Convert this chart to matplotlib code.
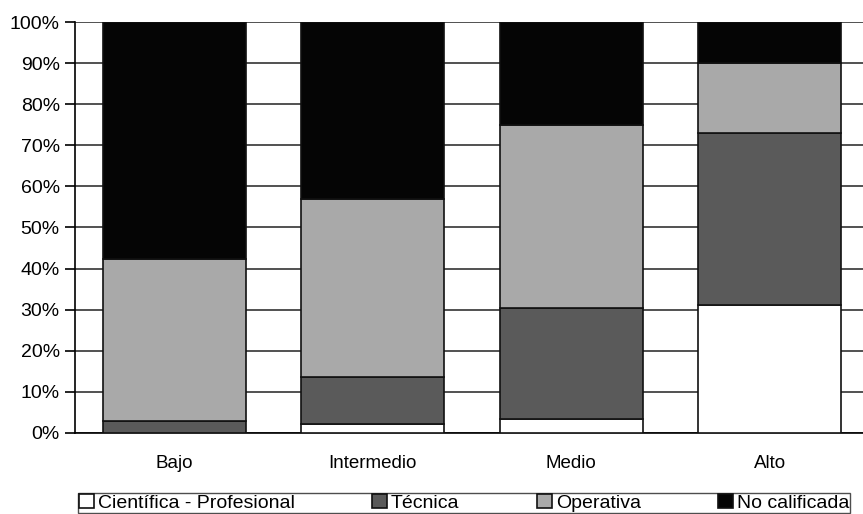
import numpy as np
import matplotlib.pyplot as plt
from matplotlib.ticker import PercentFormatter

plt.rcParams['font.family'] = ['Liberation Sans', 'DejaVu Sans']

# datos (% por nivel)
categorias = ['Bajo', 'Intermedio', 'Medio', 'Alto']
series = ['Científica - Profesional', 'Técnica', 'Operativa', 'No calificada']
cientifica = [0.0, 2.1, 3.3, 31.0]
tecnica = [2.8, 11.6, 27.2, 42.0]
operativa = [39.6, 43.3, 44.4, 17.0]
no_calificada = [57.6, 43.0, 25.1, 10.0]

colores = ['#ffffff', '#5a5a5a', '#a9a9a9', '#050505']

fig = plt.figure(figsize=(8.63, 5.14), dpi=100)
ax = fig.add_axes([0.087, 0.158, 0.92, 0.799])

x = np.arange(len(categorias))
bottom = np.zeros(len(categorias))
for nombre, vals, c in zip(series, [cientifica, tecnica, operativa, no_calificada], colores):
    ax.bar(x, vals, width=0.72, bottom=bottom, color=c, edgecolor='#111111',
           linewidth=1.2, label=nombre, zorder=3)
    bottom += np.array(vals)

ax.set_ylim(0, 100)
ax.set_xlim(-0.5, 3.5)
ax.set_yticks(np.arange(0, 101, 10))
ax.yaxis.set_major_formatter(PercentFormatter(decimals=0))
ax.set_xticks(x)
ax.set_xticklabels(categorias, fontsize=13.5)
ax.tick_params(axis='y', labelsize=14, length=7, width=1.2, pad=4)
ax.tick_params(axis='x', length=0, pad=16)
ax.grid(axis='y', color='#222222', linewidth=1.1, zorder=0)

for s in ['top', 'right']:
    ax.spines[s].set_visible(False)
ax.spines['left'].set_linewidth(1.2)
ax.spines['bottom'].set_linewidth(1.2)

leg = fig.legend(loc='lower center', bbox_to_anchor=(0.538, 0.002), ncol=4,
                 frameon=True, fancybox=False, fontsize=14, handlelength=0.75,
                 handleheight=0.75, handletextpad=0.2, columnspacing=4.0,
                 borderpad=0.05, borderaxespad=0.0, edgecolor='#222222')
leg.get_frame().set_linewidth(1.0)

fig.savefig('out.png', dpi=100)
